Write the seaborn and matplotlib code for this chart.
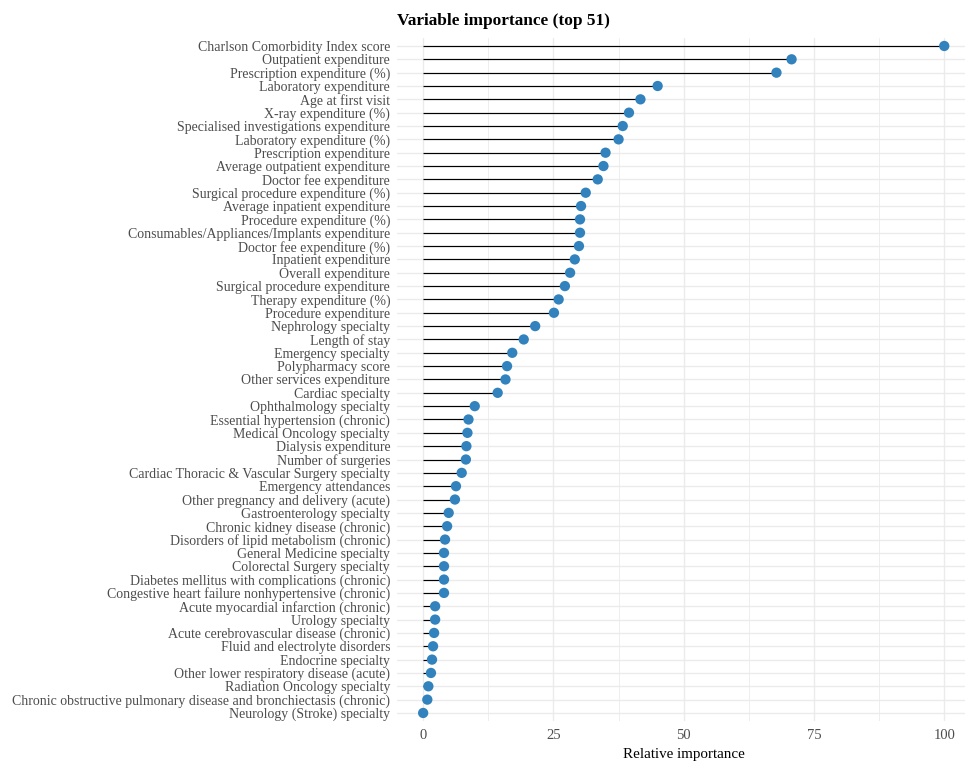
import numpy as np
import pandas as pd
import matplotlib
matplotlib.use("Agg")
import matplotlib.pyplot as plt
import seaborn as sns
from matplotlib.ticker import MultipleLocator

features = [
    "Charlson Comorbidity Index score",
    "Outpatient expenditure",
    "Prescription expenditure (%)",
    "Laboratory expenditure",
    "Age at first visit",
    "X-ray expenditure (%)",
    "Specialised investigations expenditure",
    "Laboratory expenditure (%)",
    "Prescription expenditure",
    "Average outpatient expenditure",
    "Doctor fee expenditure",
    "Surgical procedure expenditure (%)",
    "Average inpatient expenditure",
    "Procedure expenditure (%)",
    "Consumables/Appliances/Implants expenditure",
    "Doctor fee expenditure (%)",
    "Inpatient expenditure",
    "Overall expenditure",
    "Surgical procedure expenditure",
    "Therapy expenditure (%)",
    "Procedure expenditure",
    "Nephrology specialty",
    "Length of stay",
    "Emergency specialty",
    "Polypharmacy score",
    "Other services expenditure",
    "Cardiac specialty",
    "Ophthalmology specialty",
    "Essential hypertension (chronic)",
    "Medical Oncology specialty",
    "Dialysis expenditure",
    "Number of surgeries",
    "Cardiac Thoracic & Vascular Surgery specialty",
    "Emergency attendances",
    "Other pregnancy and delivery (acute)",
    "Gastroenterology specialty",
    "Chronic kidney disease (chronic)",
    "Disorders of lipid metabolism (chronic)",
    "General Medicine specialty",
    "Colorectal Surgery specialty",
    "Diabetes mellitus with complications (chronic)",
    "Congestive heart failure nonhypertensive (chronic)",
    "Acute myocardial infarction (chronic)",
    "Urology specialty",
    "Acute cerebrovascular disease (chronic)",
    "Fluid and electrolyte disorders",
    "Endocrine specialty",
    "Other lower respiratory disease (acute)",
    "Radiation Oncology specialty",
    "Chronic obstructive pulmonary disease and bronchiectasis (chronic)",
    "Neurology (Stroke) specialty",
]

importance = [
    100.0, 70.7, 67.8, 45.0, 41.7, 39.5, 38.3, 37.5, 35.0, 34.6,
    33.5, 31.2, 30.3, 30.1, 30.1, 29.9, 29.1, 28.2, 27.2, 26.0,
    25.1, 21.5, 19.3, 17.1, 16.1, 15.8, 14.3, 9.9, 8.7, 8.5,
    8.3, 8.2, 7.4, 6.3, 6.1, 4.9, 4.6, 4.2, 4.0, 4.0,
    4.0, 4.0, 2.3, 2.3, 2.1, 1.9, 1.7, 1.5, 1.0, 0.8,
    0.0,
]

x_ticks = [0, 25, 50, 75, 100]

df = pd.DataFrame({"feature": features, "importance": importance})
df["pos"] = np.arange(len(df))

sns.set_theme(style="whitegrid")
plt.rcParams["font.family"] = ["Liberation Serif", "DejaVu Serif"]

fig = plt.figure(figsize=(9.65, 7.61), dpi=100)
ax = fig.add_axes([0.4115, 0.0526, 0.594, 0.8975])

# lollipop stems from zero to each importance value
ax.hlines(df["pos"], 0, df["importance"], color="black", linewidth=0.85, zorder=2)
sns.scatterplot(data=df, x="importance", y="pos", color="#3182BD", s=55,
                edgecolor="none", linewidth=0, ax=ax, zorder=3, legend=False,
                clip_on=False)

n = len(df)
ax.set_xlim(-5, 105)
ax.set_ylim(n - 1 + 0.6, -0.6)
ax.set_xticks(x_ticks)
ax.xaxis.set_minor_locator(MultipleLocator(12.5))
ax.set_yticks(df["pos"])
ax.set_yticklabels(df["feature"])

ax.grid(which="major", axis="both", color="#EBEBEB", linewidth=1.0)
ax.grid(which="minor", axis="x", color="#EBEBEB", linewidth=0.6)
ax.set_axisbelow(True)
for s in ax.spines.values():
    s.set_visible(False)

ax.tick_params(axis="y", length=0, pad=5, labelsize=10, labelcolor="#4D4D4D")
ax.tick_params(axis="x", which="both", length=0, pad=6, labelsize=10.5, labelcolor="#4D4D4D")

ax.set_xlabel("Relative importance", fontsize=10.8, color="black", labelpad=4)
ax.set_ylabel("")
ax.set_title("Variable importance (top 51)", fontsize=12.4, fontweight="bold",
             loc="left", pad=9, color="black")

fig.savefig("out.png", dpi=100, facecolor="white")
